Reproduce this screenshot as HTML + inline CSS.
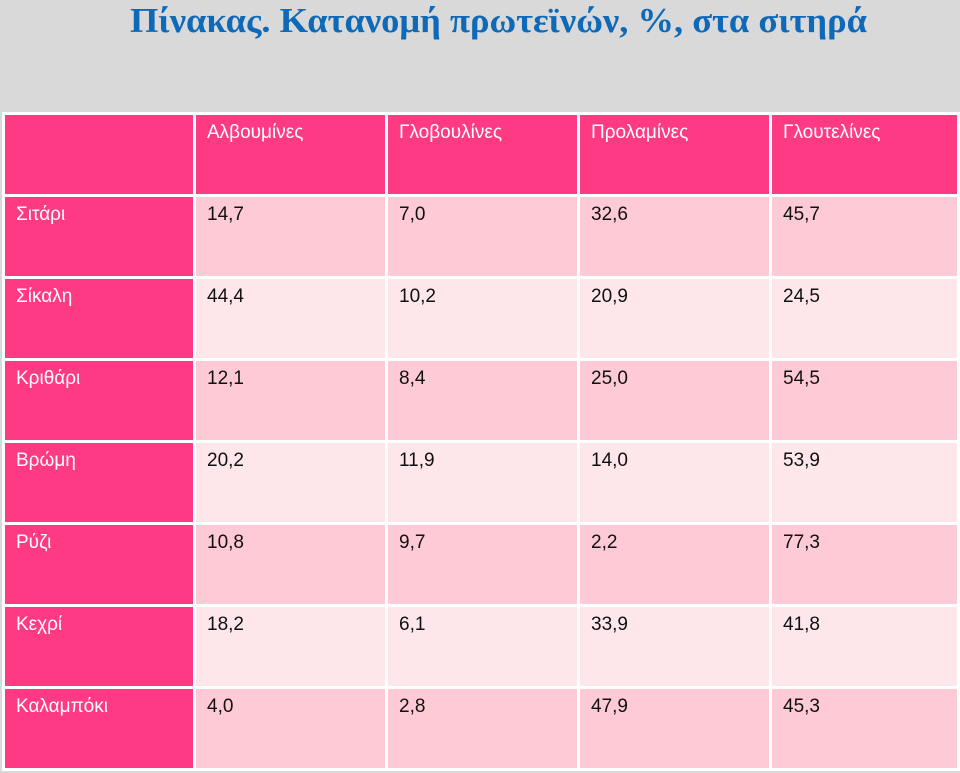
<!DOCTYPE html>
<html><head><meta charset="utf-8"><style>
body{margin:0;width:960px;height:773px;background:#d9d9d9;overflow:hidden;font-family:"Liberation Sans","DejaVu Sans",sans-serif;position:relative}
#title{position:absolute;left:0;top:0}
table{position:absolute;left:2px;top:112px;border-collapse:collapse;table-layout:fixed;width:958px}
td{border:3px solid #fff;height:76px;vertical-align:top;padding:7px 10px 0 11px;font-size:19px;color:#111;box-sizing:border-box}
tr.h td{background:#ff3a85;color:#fff}
td.rh{background:#ff3a85;color:#fff}
tr.a td:not(.rh){background:#fdcad6}
tr.b td:not(.rh){background:#fde7eb}
</style></head><body>
<svg id="title" width="960" height="50"><text x="130" y="32" textLength="737" lengthAdjust="spacingAndGlyphs" font-family="Liberation Serif, serif" font-weight="bold" font-size="35" fill="#0e6ab8">Πίνακας. Κατανομή πρωτεϊνών, %, στα σιτηρά</text></svg>
<table>
<colgroup><col style="width:191px"><col style="width:192px"><col style="width:192px"><col style="width:192px"><col></colgroup>
<tr class="h" style="height:82px"><td></td><td>Αλβουμίνες</td><td>Γλοβουλίνες</td><td>Προλαμίνες</td><td>Γλουτελίνες</td></tr>
<tr class="a" style="height:82px"><td class="rh">Σιτάρι</td><td>14,7</td><td>7,0</td><td>32,6</td><td>45,7</td></tr>
<tr class="b" style="height:82px"><td class="rh">Σίκαλη</td><td>44,4</td><td>10,2</td><td>20,9</td><td>24,5</td></tr>
<tr class="a" style="height:82px"><td class="rh">Κριθάρι</td><td>12,1</td><td>8,4</td><td>25,0</td><td>54,5</td></tr>
<tr class="b" style="height:82px"><td class="rh">Βρώμη</td><td>20,2</td><td>11,9</td><td>14,0</td><td>53,9</td></tr>
<tr class="a" style="height:82px"><td class="rh">Ρύζι</td><td>10,8</td><td>9,7</td><td>2,2</td><td>77,3</td></tr>
<tr class="b" style="height:82px"><td class="rh">Κεχρί</td><td>18,2</td><td>6,1</td><td>33,9</td><td>41,8</td></tr>
<tr class="a" style="height:82px"><td class="rh">Καλαμπόκι</td><td>4,0</td><td>2,8</td><td>47,9</td><td>45,3</td></tr>
</table>
</body></html>
